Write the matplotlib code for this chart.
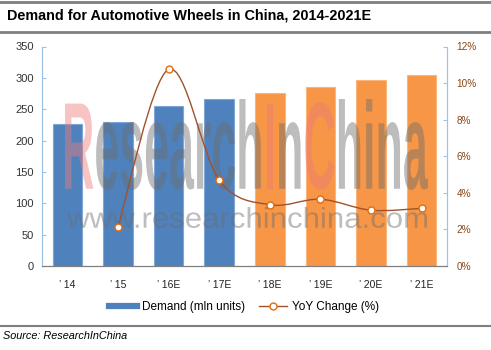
import numpy as np
import matplotlib

matplotlib.use("Agg")
import matplotlib.pyplot as plt
from matplotlib.lines import Line2D
from matplotlib.path import Path
from matplotlib.patches import PathPatch
from matplotlib.textpath import TextPath, TextToPath
from matplotlib.font_manager import FontProperties
from matplotlib.transforms import Affine2D

plt.rcParams["font.family"] = ["Liberation Sans", "DejaVu Sans"]

# data
years = ["\u2019 14", "\u2019 15", "\u2019 16E", "\u2019 17E",
         "\u2019 18E", "\u2019 19E", "\u2019 20E", "\u2019 21E"]
demand = [226, 230, 255, 267, 276, 286, 296, 305]
yoy = [np.nan, 2.15, 10.75, 4.7, 3.35, 3.65, 3.05, 3.15]

BLUE = "#4F81BD"
ORANGE = "#F79646"
BROWN = "#A0522D"
W, H = 491, 350

fig = plt.figure(figsize=(W / 100, H / 100), dpi=100)
ax = fig.add_axes([42 / W, 1 - 266 / H, (447 - 42) / W, (266 - 46.5) / H])
ax2 = ax.twinx()

x = np.arange(len(years))
colors = [BLUE] * 4 + [ORANGE] * (len(years) - 4)
edges = ["#7FA6D6"] * 4 + ["#FBB47A"] * (len(years) - 4)
ax.bar(x, demand, width=0.585, color=colors, edgecolor=edges, linewidth=0.8, zorder=2)
ax.set_xlim(-0.5, len(years) - 0.5)
ax.set_ylim(0, 350)
ax.set_yticks(range(0, 351, 50))
ax.set_xticks(x)
ax.set_xticklabels(years)
ax.tick_params(axis="x", length=0, pad=10, labelsize=7.5, labelcolor="#222222")
ax.tick_params(axis="y", direction="in", length=3, color="#9DC3E6", pad=6,
               labelsize=8, labelcolor="#333333")

ax2.set_ylim(0, 12)
ax2.set_yticks(range(0, 13, 2))
ax2.set_yticklabels([f"{v}%" for v in range(0, 13, 2)])
ax2.tick_params(axis="y", direction="in", length=3, color="#9DC3E6", pad=7,
                labelsize=7.2, labelcolor="#8B4513")

for a in (ax, ax2):
    a.spines["top"].set_visible(False)
    a.spines["left"].set_color("#9DC3E6")
    a.spines["right"].set_color("#9DC3E6")
    a.spines["bottom"].set_color("#7F7F7F")

# smoothed YoY line (Catmull-Rom as cubic Bezier segments)
pts = np.array([(xi, yi) for xi, yi in zip(x, yoy) if not np.isnan(yi)], float)
ext = np.vstack([pts[0], pts, pts[-1]])
verts = [tuple(pts[0])]
codes = [Path.MOVETO]
for i in range(len(pts) - 1):
    p0, p1, p2, p3 = ext[i], ext[i + 1], ext[i + 2], ext[i + 3]
    c1 = p1 + (p2 - p0) / 6
    c2 = p2 - (p3 - p1) / 6
    verts += [tuple(c1), tuple(c2), tuple(p2)]
    codes += [Path.CURVE4] * 3
ax2.add_patch(PathPatch(Path(verts, codes), facecolor="none", edgecolor=BROWN,
                        linewidth=1.0, zorder=3))
ax2.plot(pts[:, 0], pts[:, 1], linestyle="none", marker="o", markersize=5,
         markerfacecolor="white", markeredgecolor="#E36C09", markeredgewidth=1,
         zorder=4)

# watermark (pixel coords measured from the top)
px = Affine2D().scale(1 / W, 1 / H) + fig.transFigure


def stretched_text(text, pieces, fp, x0, x1, ytop, ybot, alpha):
    ttp = TextToPath()
    full = TextPath((0, 0), text, prop=fp)
    ext_ = full.get_extents()
    sx = (x1 - x0) / ext_.width
    sy = (ybot - ytop) / ext_.height
    pos = 0
    for piece, col in pieces:
        off = ttp.get_text_width_height_descent(text[:pos], fp, ismath=False)[0] if pos else 0
        tp = TextPath((off, 0), piece, prop=fp)
        tr = Affine2D().translate(-ext_.x0, -ext_.y0).scale(sx, sy).translate(x0, H - ybot) + px
        ax.add_patch(PathPatch(tp, facecolor=col, edgecolor="none", alpha=alpha,
                               transform=tr, clip_on=False, zorder=5))
        pos += len(piece)


stretched_text("ResearchInChina",
               [("R", "#EE7B7B"), ("esearch", "#6E6E6E"), ("I", "#EE7B7B"),
                ("n", "#6E6E6E"), ("C", "#EE7B7B"), ("hina", "#6E6E6E")],
               FontProperties(family="Liberation Sans", weight="bold", size=40),
               65, 428, 99, 190, 0.45)
stretched_text("www.researchinchina.com", [("www.researchinchina.com", "#6E6E6E")],
               FontProperties(family="Liberation Sans", size=40),
               67, 427, 207, 228, 0.45)

# legend
handles = [Line2D([], [], color=BLUE, linewidth=4.5),
           Line2D([], [], color=BROWN, linewidth=1, marker="o", markersize=5,
                  markerfacecolor="white", markeredgecolor="#E36C09")]
fig.legend(handles, ["Demand (mln units)", "YoY Change (%)"], loc="center",
           bbox_to_anchor=(244 / W, 1 - 307 / H), ncol=2, frameon=False,
           fontsize=8.5, handlelength=2.4, columnspacing=1.2, handletextpad=0.4)

# title, rules and source
for yy, lw in ((2, 2), (31.5, 2), (326, 1.5)):
    fig.add_artist(Line2D([0, 1], [1 - yy / H, 1 - yy / H], transform=fig.transFigure,
                          color="#7F7F7F", linewidth=lw))
fig.text(7 / W, 1 - 16 / H, "Demand for Automotive Wheels in China, 2014-2021E",
         fontsize=10.4, fontweight="bold", va="center", ha="left")
fig.text(3 / W, 1 - 336 / H, "Source: ResearchInChina", fontsize=7.8,
         fontstyle="italic", va="center", ha="left")

fig.savefig("out.png", dpi=100)
